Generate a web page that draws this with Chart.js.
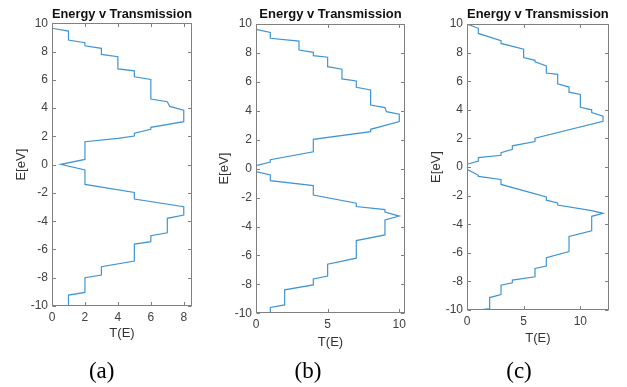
<!DOCTYPE html>
<html><head><meta charset="utf-8">
<script src="https://cdn.jsdelivr.net/npm/chart.js@4.4.1/dist/chart.umd.min.js"></script>
<style>
html,body{margin:0;padding:0;background:#fff;width:627px;height:387px;overflow:hidden;position:relative;}
canvas{position:absolute;top:0;}
.cap{position:absolute;font-family:"Liberation Serif","Times New Roman",serif;font-size:23px;color:#000;transform:translate(-50%,-50%);white-space:nowrap;line-height:1;}
</style></head><body>
<canvas id="ca" width="205" height="387" style="left:0px"></canvas>
<canvas id="cb" width="210" height="387" style="left:210px"></canvas>
<canvas id="cc" width="210" height="387" style="left:417px"></canvas>
<div class="cap" style="left:101.7px;top:370px">(a)</div>
<div class="cap" style="left:308px;top:370px">(b)</div>
<div class="cap" style="left:519px;top:370px">(c)</div>
<script>
// ---- data ----
const titleText = 'Energy v Transmission';
const xLabel = 'T(E)';
const yLabel = 'E[eV]';
const yTicks = [-10,-8,-6,-4,-2,0,2,4,6,8,10];
const xTicksA = [0,2,4,6,8];
const xTicksB = [0,5,10];
const xTicksC = [0,5,10];

const tA = [0,0,1,1,2,2,3,3,4,4,5,5,6,6,7,7.15,8,8,6,6,5,5,4,2,2,0.53,2,2,5,5,8,8,7,7,6,6,5,5,3,3,2,2,1,1];
const eA = [10,9.65,9.45,8.82,8.63,8.41,8.23,7.8,7.64,6.77,6.64,6.22,6.03,4.64,4.45,4.12,3.86,3.04,2.64,2.5,2.22,2.02,1.86,1.62,0.37,0.02,-0.38,-1.4,-1.97,-2.43,-2.98,-3.57,-3.8,-4.82,-5.03,-5.45,-5.62,-6.82,-7.22,-7.81,-8.0,-9.04,-9.23,-10];

const tB = [0,0,1,1,3,3,4,4,5,5,6,6,7,7,8,8,9,9.1,10,10,8,8,4,4,1,1,0,0,1,1,4,4,7,7,9,9,10,9,9,7,7,5,5,4,4,2,2,1,1];
const eB = [10,9.63,9.42,9.01,8.82,8.2,8.04,7.81,7.7,7.05,6.87,6.2,6.06,5.62,5.44,4.4,4.22,3.94,3.76,3.25,2.72,2.56,2.03,1.17,0.62,0.45,0.21,-0.2,-0.44,-0.83,-1.17,-1.82,-2.39,-2.62,-2.83,-3.0,-3.28,-3.54,-4.58,-4.97,-6.19,-6.61,-7.42,-7.62,-8.04,-8.38,-9.42,-9.6,-10];

const tC = [0,1,1,3,3,5,5,6,6,7,7,8,8,9,9,10,10,11,11,12,12,6,6,4,4,3,3,1,1,0,0,1,1,3,3,7,7,8,8,11,12,11,11,9,9,7,7,6,6,4,4,3,3,2,2,1];
const eC = [10,9.7,9.34,8.83,8.64,8.24,7.65,7.46,7.35,7.07,6.57,6.48,5.82,5.59,5.23,5.07,4.18,4.0,3.8,3.55,3.19,2.02,1.78,1.48,1.24,1.0,0.82,0.66,0.42,0.19,-0.16,-0.58,-0.66,-0.87,-1.22,-2.09,-2.32,-2.51,-2.66,-3.05,-3.24,-3.45,-4.46,-4.86,-5.92,-6.34,-6.93,-7.1,-7.68,-7.91,-8.1,-8.26,-8.92,-9.13,-9.9,-10];

// ---- layout / style ----
Chart.defaults.font.family = "'Liberation Sans', Arial, sans-serif";
Chart.defaults.color = '#404040';
const LINE = '#3f94d4';
const BOX = '#808080';

const boxTicks = {
  id: 'boxTicks',
  afterDraw(chart) {
    const {ctx, chartArea: a, scales: {x, y}} = chart;
    const L = Math.round(a.left) + 0.5, R = Math.round(a.right) - 0.5;
    const T = Math.round(a.top) + 0.5, B = Math.round(a.bottom) - 0.5;
    const tl = 3.5;
    ctx.save();
    ctx.strokeStyle = BOX; ctx.lineWidth = 1;
    ctx.strokeRect(L, T, R - L, B - T);
    ctx.beginPath();
    x.ticks.forEach(t => {
      const px = Math.round(x.getPixelForValue(t.value)) + 0.5;
      ctx.moveTo(px, B); ctx.lineTo(px, B - tl);
      ctx.moveTo(px, T); ctx.lineTo(px, T + tl);
    });
    y.ticks.forEach(t => {
      const py = Math.round(y.getPixelForValue(t.value)) + 0.5;
      ctx.moveTo(L, py); ctx.lineTo(L + tl, py);
      ctx.moveTo(R, py); ctx.lineTo(R - tl, py);
    });
    ctx.stroke();
    ctx.restore();
  }
};

const panels = [
  {id:'ca', t:tA, e:eA, xTicks:xTicksA, xMax:8.5, top:23.3, bottom:306, yAxisW:52, padRight:13, yTitlePad:14, xTitleOff:27},
  {id:'cb', t:tB, e:eB, xTicks:xTicksB, xMax:10.4, top:24, bottom:313.3, yAxisW:46, padRight:15, yTitlePad:6.2, xTitleOff:29.4},
  {id:'cc', t:tC, e:eC, xTicks:xTicksC, xMax:12.5, top:24, bottom:310, yAxisW:50, padRight:18.3, yTitlePad:11.2, xTitleOff:28.3}
];

const XAXIS_H = 45;
panels.forEach(p => {
  const cv = document.getElementById(p.id);
  const H = cv.height;
  new Chart(cv, {
    type: 'scatter',
    data: {
      datasets: [{
        data: p.t.map((v, i) => ({x: v, y: p.e[i]})),
        showLine: true,
        borderColor: LINE,
        borderWidth: 1.2,
        pointRadius: 0,
        tension: 0,
        fill: false
      }]
    },
    options: {
      responsive: false,
      animation: false,
      devicePixelRatio: 1,
      layout: {padding: {left: 0, top: 0, right: p.padRight, bottom: H - p.bottom - XAXIS_H}},
      plugins: {
        legend: {display: false},
        tooltip: {enabled: false},
        title: {
          display: true, text: titleText, color: '#111', fullSize: false,
          font: {size: 13, weight: 'bold'},
          padding: {top: 6.7, bottom: p.top - 6.7 - 15.6}
        }
      },
      scales: {
        x: {
          type: 'linear', min: 0, max: p.xMax,
          afterBuildTicks: s => { s.ticks = p.xTicks.map(v => ({value: v})); },
          afterFit: s => { s.height = XAXIS_H; },
          grid: {display: false, drawTicks: false},
          border: {display: false},
          ticks: {padding: 4, font: {size: 12}, color: '#404040', callback: v => String(v)},
          title: {display: true, text: xLabel, color: '#333', font: {size: 13},
                  padding: {top: 0, bottom: XAXIS_H - 7.8 - p.xTitleOff}}
        },
        y: {
          type: 'linear', min: -10, max: 10,
          afterBuildTicks: s => { s.ticks = yTicks.map(v => ({value: v})); },
          afterFit: s => { s.width = p.yAxisW; },
          grid: {display: false, drawTicks: false},
          border: {display: false},
          ticks: {padding: 4, font: {size: 12}, color: '#404040', callback: v => String(v)},
          title: {display: true, text: yLabel, color: '#333', font: {size: 13},
                  padding: {top: p.yTitlePad, bottom: 0}}
        }
      }
    },
    plugins: [boxTicks]
  });
});
</script>
</body></html>
